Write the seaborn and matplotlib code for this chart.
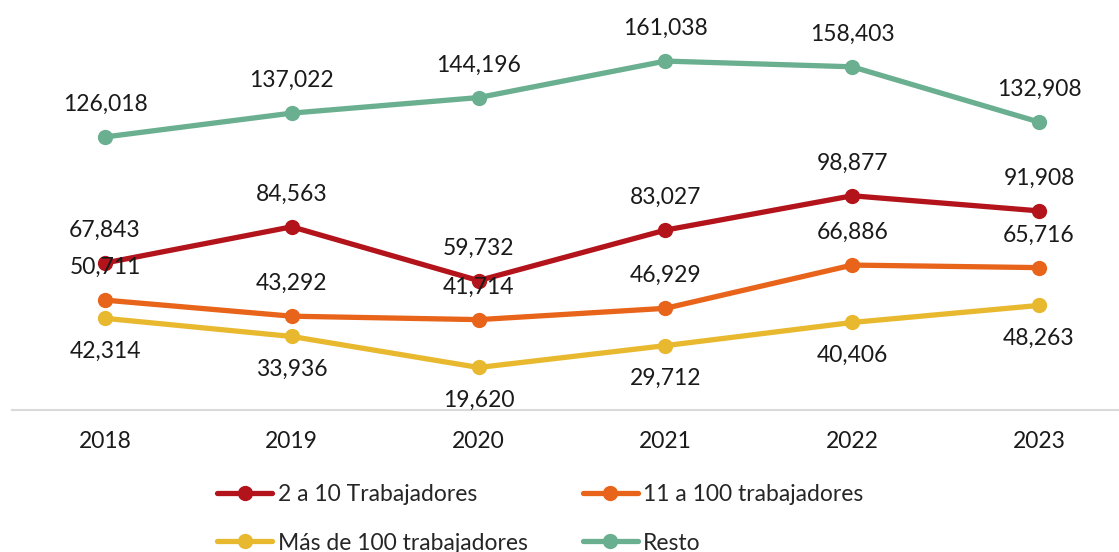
import pandas as pd
import matplotlib.pyplot as plt
import seaborn as sns

years = ["2018", "2019", "2020", "2021", "2022", "2023"]
series_names = ["2 a 10 Trabajadores", "11 a 100 trabajadores",
                "Más de 100 trabajadores", "Resto"]
dos_a_diez = [67843, 84563, 59732, 83027, 98877, 91908]
once_a_cien = [50711, 43292, 41714, 46929, 66886, 65716]
mas_de_cien = [42314, 33936, 19620, 29712, 40406, 48263]
resto = [126018, 137022, 144196, 161038, 158403, 132908]

colors = ["#B3141B", "#E8641A", "#E8B92F", "#6AAF8F"]
# label above (+) or below (-) the point
label_side = [1, 1, -1, 1]

df = pd.DataFrame({"Año": years * 4,
                   "Serie": [n for n in series_names for _ in years],
                   "Valor": dos_a_diez + once_a_cien + mas_de_cien + resto})

sns.set_style("white")
plt.rcParams["font.family"] = ["Lato", "DejaVu Sans"]

fig = plt.figure(figsize=(11.19, 5.52), dpi=100)
ax = fig.add_axes([11.6 / 1119, 1 - 410 / 552, 1 - 11.6 / 1119, (410 - 20) / 552])

sns.lineplot(data=df, x="Año", y="Valor", hue="Serie", palette=colors,
             hue_order=series_names, marker="o", markersize=11, linewidth=3.8,
             markeredgewidth=0, sort=False, ax=ax, legend=True)

ax.set_xlim(-0.5, (1119 - 105) / 186.8)
ax.set_ylim(0, 180000)

for i, name in enumerate(series_names):
    vals = df[df["Serie"] == name]["Valor"].tolist()
    for j, v in enumerate(vals):
        ax.annotate(f"{v:,}", (j, v), xytext=(0, 23.5 * label_side[i]),
                    textcoords="offset points", ha="center", va="center",
                    fontsize=16.5, color="#1a1a1a")

ax.set_yticks([])
ax.set_xlabel("")
ax.set_ylabel("")
ax.tick_params(axis="x", length=0, labelsize=16.5, pad=15, colors="#1a1a1a")
for s in ["top", "right", "left"]:
    ax.spines[s].set_visible(False)
ax.spines["bottom"].set_color("#D9D9D9")
ax.spines["bottom"].set_linewidth(1.5)

# row-wise legend order
handles, labels = ax.get_legend_handles_labels()
order = [0, 2, 1, 3]
ax.legend([handles[k] for k in order], [labels[k] for k in order],
          loc="upper left", bbox_to_anchor=(217 / 1119, 1 - 484 / 552),
          bbox_transform=fig.transFigure, ncol=2, frameon=False, fontsize=16.5,
          handlelength=2.4, handletextpad=0.25, columnspacing=2.4,
          labelspacing=1.2, borderaxespad=0, borderpad=0)

fig.savefig("out.png", dpi=100)
